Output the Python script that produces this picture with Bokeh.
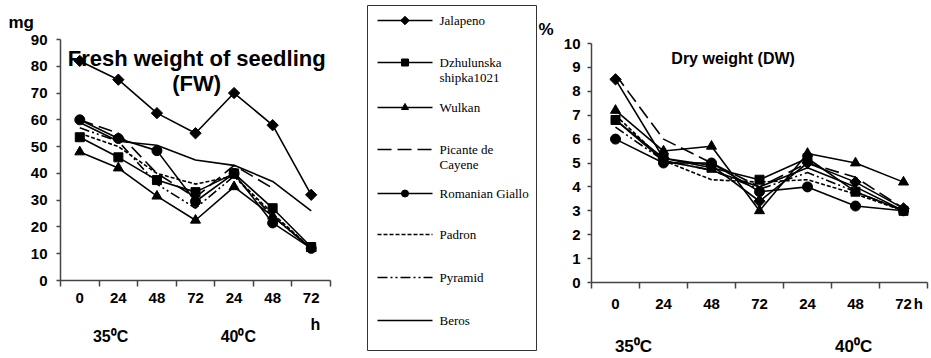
import math
from bokeh.plotting import figure
from bokeh.models import Range1d, FixedTicker, Label, LinearAxis, Title
from bokeh.layouts import row
from bokeh.embed import file_html
from bokeh.resources import INLINE
from bokeh.core.properties import value

NaN = float("nan")

# ---------------- data ----------------
hour_labels = ["0", "24", "48", "72", "24", "48", "72"]
temp_labels = ["35⁰C", "40⁰C"]
cultivars = ["Jalapeno", "Dzhulunska shipka1021", "Wulkan", "Picante de Cayene",
             "Romanian Giallo", "Padron", "Pyramid", "Beros"]
legend_text = [["Jalapeno"], ["Dzhulunska", "shipka1021"], ["Wulkan"],
               ["Picante de", "Cayene"], ["Romanian Giallo"], ["Padron"],
               ["Pyramid"], ["Beros"]]

# Fresh weight of seedling (mg)
fw_jalapeno = [82, 75, 62.5, 55, 70, 58, 32]
fw_dzhulunska = [53.5, 46, 37.5, 33, 40, 27, 12.5]
fw_wulkan = [48, 42, 31.5, 22.5, 35, 24, 12]
fw_picante = [60, 55, 40, 31, 43, 34.5, NaN]
fw_romanian = [60, 53, 48.5, 29.5, 40, 21.5, 12]
fw_padron = [55, 50, 40, 36, 39, 25, 12]
fw_pyramid = [57, 52, 36, 27, 39, 24, 12]
fw_beros = [59, 52, 50.5, 45, 43, 37, 26]

# Dry weight (%)
dw_jalapeno = [8.5, 5.2, 4.9, 3.4, 5.0, 4.2, 3.1]
dw_dzhulunska = [6.8, 5.2, 4.8, 4.3, 5.2, 3.8, 3.0]
dw_wulkan = [7.2, 5.5, 5.7, 3.0, 5.4, 5.0, 4.2]
dw_picante = [8.7, 6.0, 5.0, 4.0, 5.0, 4.4, 3.1]
dw_romanian = [6.0, 5.0, 5.0, 3.8, 4.0, 3.2, 3.0]
dw_padron = [7.0, 5.1, 4.3, 4.2, 4.3, 3.7, 3.0]
dw_pyramid = [6.5, 5.1, 4.7, 3.9, 4.6, 3.8, 3.0]
dw_beros = [6.8, 5.1, 4.7, 4.0, 4.8, 4.0, 3.0]

fw_series = [fw_jalapeno, fw_dzhulunska, fw_wulkan, fw_picante,
             fw_romanian, fw_padron, fw_pyramid, fw_beros]
dw_series = [dw_jalapeno, dw_dzhulunska, dw_wulkan, dw_picante,
             dw_romanian, dw_padron, dw_pyramid, dw_beros]

# ---------------- styles ----------------
# "diamond" is drawn as a square turned by 45 degrees
markers = ["diamond", "square", "triangle", None, "circle", None, None, None]
dashes = ["solid", "solid", "solid", "14 6", "solid", "4 2", "10 3 2 3 2 3", "solid"]
msize = {"diamond": 8, "square": 9, "triangle": 10, "circle": 10}
lsize = {"diamond": 6, "square": 7, "triangle": 7, "circle": 7}
FONT = "Liberation Sans"
AXIS_COLOR = "#444444"
H = 358

xs = list(range(len(hour_labels)))


def draw_marker(p, x, y, m, size):
    if m == "diamond":
        p.scatter(x=x, y=y, marker="square", angle=math.pi / 4, size=size,
                  fill_color="black", line_color="black")
    else:
        p.scatter(x=x, y=y, marker=m, size=size, fill_color="black", line_color="black")


def style_labels(ax, size):
    ax.major_label_text_font = FONT
    ax.major_label_text_font_style = "bold"
    ax.major_label_text_font_size = size
    ax.major_label_text_color = "black"


def make_chart(width, ymax, ystep, series, borders, ystandoff, extra_x=None):
    left, right, top, bottom = borders
    p = figure(width=width, height=H, output_backend="svg", toolbar_location=None,
               x_range=Range1d(-0.5, len(xs) - 0.5), y_range=Range1d(0, ymax),
               min_border_left=left, min_border_right=right,
               min_border_top=top, min_border_bottom=bottom)
    p.frame_align = False
    p.outline_line_color = None
    p.grid.visible = False
    for vals, m, d in zip(series, markers, dashes):
        p.line(x=xs, y=vals, line_color="black", line_width=1.6, line_dash=d)
        if m:
            draw_marker(p, xs, vals, m, msize[m])
    xa = p.xaxis[0]
    overrides = {i: lab for i, lab in enumerate(hour_labels)}
    ticks = list(xs)
    if extra_x is not None:
        ticks.append(extra_x)
        overrides[extra_x] = "h"
    xa.ticker = FixedTicker(ticks=ticks, minor_ticks=[i - 0.5 for i in range(len(xs) + 1)])
    xa.major_label_overrides = overrides
    xa.major_tick_out = 0
    xa.major_tick_in = 0
    xa.minor_tick_out = 6
    xa.minor_tick_in = 0
    xa.minor_tick_line_color = AXIS_COLOR
    xa.minor_tick_line_width = 1.5
    xa.major_label_standoff = 6
    ya = p.yaxis[0]
    ya.ticker = FixedTicker(ticks=[v * ystep for v in range(int(ymax / ystep) + 1)])
    ya.major_tick_out = 4
    ya.major_tick_in = 0
    ya.minor_tick_line_color = None
    ya.major_label_standoff = ystandoff
    for ax in (xa, ya):
        ax.axis_line_color = AXIS_COLOR
        ax.axis_line_width = 1.5
        ax.major_tick_line_color = AXIS_COLOR
        ax.major_tick_line_width = 1.5
        style_labels(ax, "15px")
    return p


def add_text(p, x, y, text, size):
    p.add_layout(Label(x=x, y=y, text=text, text_font=FONT, text_font_style="bold",
                       text_font_size=size, text_align="center", text_baseline="middle",
                       text_color="black"))


def add_unit(p, text, offset, standoff):
    p.add_layout(Title(text=text, align="left", offset=offset, standoff=standoff,
                       text_font=FONT, text_font_style="bold", text_font_size="17px",
                       text_color="black"), "above")


def add_text_axis(p, ticks, labels, standoff, size):
    ax = LinearAxis(ticker=FixedTicker(ticks=ticks),
                    major_label_overrides={t: s for t, s in zip(ticks, labels)})
    ax.axis_line_color = None
    ax.major_tick_line_color = None
    ax.minor_tick_line_color = None
    ax.major_tick_out = 0
    ax.major_label_standoff = standoff
    style_labels(ax, size)
    p.add_layout(ax, "below")


# ---------------- left chart: fresh weight ----------------
p1 = make_chart(360, 90, 10, fw_series, (60, 30, 39, 78), 9)
add_unit(p1, "mg", -52, 16)
add_text(p1, 3.03, 82.9, "Fresh weight of seedling", "22px")
add_text(p1, 3.03, 73.6, "(FW)", "22px")
add_text_axis(p1, [6.11], ["h"], 10, "16px")
add_text_axis(p1, [0.80, 4.11], temp_labels, -8, "16px")

# ---------------- legend ----------------
LW = 177
pl = figure(width=LW, height=H, output_backend="svg", toolbar_location=None,
            x_range=Range1d(0, LW), y_range=Range1d(H, 0),
            min_border_left=0, min_border_right=0, min_border_top=0, min_border_bottom=0)
pl.frame_align = False
pl.axis.visible = False
pl.grid.visible = False
pl.outline_line_color = None
pl.quad(left=[7], right=[176], top=[5], bottom=[350], fill_color=None,
        line_color="#333333", line_width=1)
item_y = [20, 62, 107, 149, 193, 234, 277, 320]
for lines, m, d, yy in zip(legend_text, markers, dashes, item_y):
    pl.line(x=[17, 72], y=[yy, yy], line_color="black", line_width=1.6, line_dash=d)
    if m:
        draw_marker(pl, [44.5], [yy], m, lsize[m])
    pl.text(x=[79] * len(lines), y=[yy + 15 * k for k in range(len(lines))], text=lines,
            text_font=value("Liberation Serif"), text_font_size=value("13px"),
            text_baseline="middle", text_color="black")

# ---------------- right chart: dry weight ----------------
p2 = make_chart(394, 10, 1, dw_series, (54, 4, 43, 73), 7, extra_x=6.31)
add_unit(p2, "%", -53, 10)
add_text(p2, 2.45, 9.38, "Dry weight (DW)", "16px")
add_text_axis(p2, [0.375, 4.96], temp_labels, 22, "17px")

layout = row(p1, pl, p2)
open("out.html", "w").write(file_html(layout, INLINE))
